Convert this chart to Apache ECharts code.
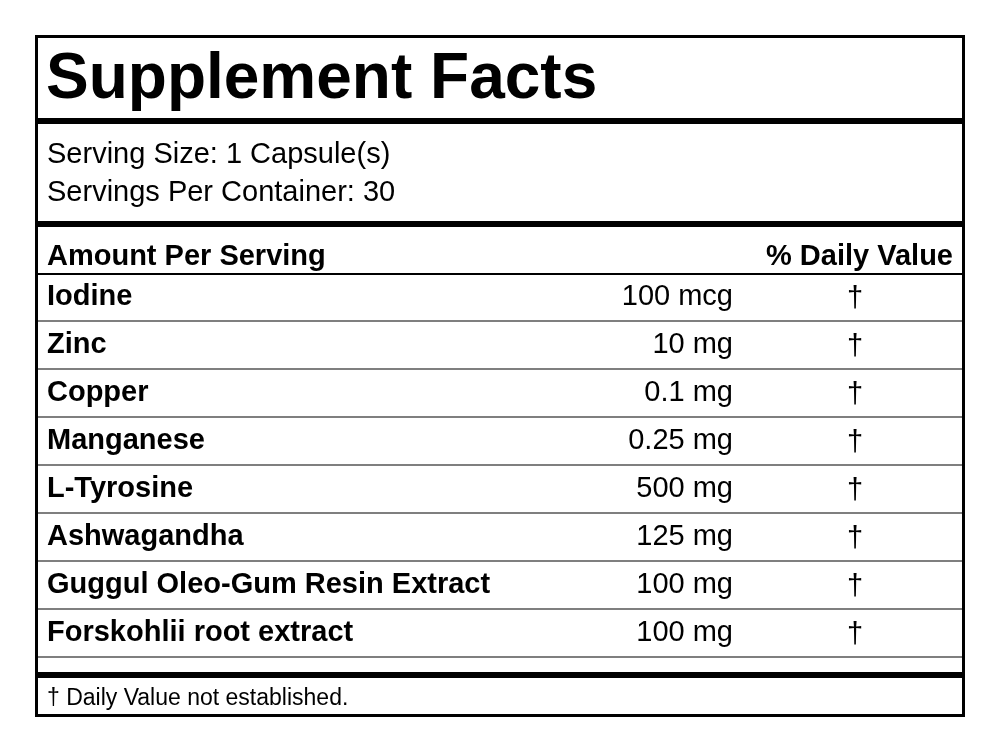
<!DOCTYPE html>
<html><head><meta charset="utf-8">
<script src="https://cdn.jsdelivr.net/npm/echarts@6/dist/echarts.min.js"></script>
<style>html,body{margin:0;padding:0;background:#fff}#c{width:1000px;height:752px}</style>
</head><body><div id="c"></div>
<script>
const title = "Supplement Facts";
const servingLines = ["Serving Size: 1 Capsule(s)", "Servings Per Container: 30"];
const headerLeft = "Amount Per Serving";
const headerRight = "% Daily Value";
const ingredients = ["Iodine","Zinc","Copper","Manganese","L-Tyrosine","Ashwagandha","Guggul Oleo-Gum Resin Extract","Forskohlii root extract"];
const amounts = ["100 mcg","10 mg","0.1 mg","0.25 mg","500 mg","125 mg","100 mg","100 mg"];
const dailyValues = ["†","†","†","†","†","†","†","†"];
const footnote = "† Daily Value not established.";

const F = "'Liberation Sans', Arial, sans-serif";
const chart = echarts.init(document.getElementById('c'));
const g = [];
function txt(x,y,s,size,bold,align){
  g.push({type:'text',x:x,y:y,style:{text:s,fontFamily:F,fontSize:size,fontWeight:bold?'bold':'normal',fill:'#000',textAlign:align||'left',textVerticalAlign:'middle'}});
}
function bar(y,h){
  g.push({type:'rect',shape:{x:36,y:y-h/2,width:928,height:h},style:{fill:'#000'}});
}
g.push({type:'rect',shape:{x:36.5,y:36.5,width:927,height:679},style:{fill:'none',stroke:'#000',lineWidth:3}});
txt(46,80,title,64,true);
bar(121,6);
servingLines.forEach((s,i)=>txt(47,155+i*38,s,29,false));
bar(224,6);
txt(47,257,headerLeft,29,true);
txt(953,257,headerRight,29,true,'right');
bar(274,2);
ingredients.forEach((n,i)=>{
  const y = 297 + i*48;
  txt(47,y,n,29,true);
  txt(733,y,amounts[i],29,false,'right');
  txt(855,y+2,dailyValues[i],29,false,'center');
  bar(y+24,1);
});
bar(675,6);
txt(47,699,footnote,23,false);
chart.setOption({graphic:{elements:g}});
</script></body></html>
